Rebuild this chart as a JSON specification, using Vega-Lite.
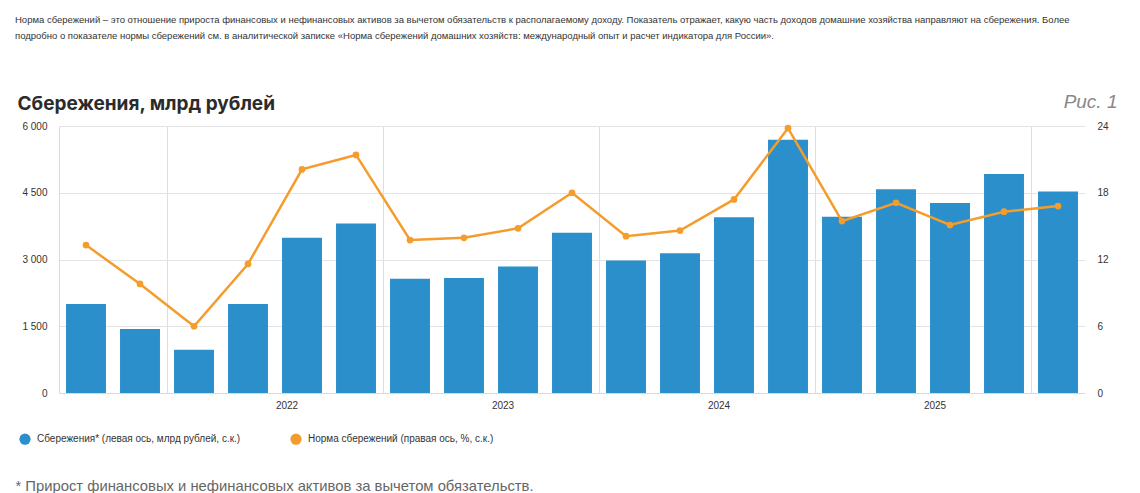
{
  "$schema": "https://vega.github.io/schema/vega-lite/v6.json",
  "width": 1026,
  "height": 267,
  "autosize": {"type": "none"},
  "padding": {"left": 59, "top": 126, "right": 55, "bottom": 100},
  "background": "white",
  "title": {
    "text": [
      "Норма сбережений – это отношение прироста финансовых и нефинансовых активов за вычетом обязательств к располагаемому доходу. Показатель отражает, какую часть доходов домашние хозяйства направляют на сбережения. Более",
      "подробно о показателе нормы сбережений см. в аналитической записке «Норма сбережений домашних хозяйств: международный опыт и расчет индикатора для России»."
    ],
    "anchor": "start",
    "frame": "bounds",
    "font": "Liberation Sans",
    "fontSize": 9.5,
    "fontWeight": "normal",
    "lineHeight": 16,
    "color": "#333333",
    "offset": 52
  },
  "config": {
    "view": {"stroke": null},
    "font": "Liberation Sans",
    "axis": {
      "labelFont": "Liberation Sans",
      "labelFontSize": 10,
      "labelColor": "#333333",
      "gridColor": "#e3e3e3",
      "domainColor": "#d9d9d9",
      "ticks": false
    }
  },
  "data": {
    "values": [
      {"period": "2021Q3", "savings": 2000, "rate": 13.3},
      {"period": "2021Q4", "savings": 1440, "rate": 9.8},
      {"period": "2022Q1", "savings": 970, "rate": 6.0},
      {"period": "2022Q2", "savings": 2000, "rate": 11.6},
      {"period": "2022Q3", "savings": 3490, "rate": 20.1},
      {"period": "2022Q4", "savings": 3810, "rate": 21.4},
      {"period": "2023Q1", "savings": 2570, "rate": 13.75},
      {"period": "2023Q2", "savings": 2585, "rate": 13.95},
      {"period": "2023Q3", "savings": 2840, "rate": 14.8},
      {"period": "2023Q4", "savings": 3600, "rate": 18.0},
      {"period": "2024Q1", "savings": 2980, "rate": 14.1},
      {"period": "2024Q2", "savings": 3140, "rate": 14.6},
      {"period": "2024Q3", "savings": 3950, "rate": 17.4},
      {"period": "2024Q4", "savings": 5690, "rate": 23.8},
      {"period": "2025Q1", "savings": 3960, "rate": 15.45},
      {"period": "2025Q2", "savings": 4580, "rate": 17.1},
      {"period": "2025Q3", "savings": 4270, "rate": 15.1},
      {"period": "2025Q4", "savings": 4920, "rate": 16.3},
      {"period": "2026Q1", "savings": 4530, "rate": 16.8}
    ]
  },
  "encoding": {
    "x": {
      "field": "period",
      "type": "ordinal",
      "sort": null,
      "scale": {"paddingInner": 0, "paddingOuter": 0},
      "axis": {
        "values": ["2022Q1", "2023Q1", "2024Q1", "2025Q1", "2026Q1"],
        "bandPosition": 0,
        "grid": true,
        "gridColor": "#dddddd",
        "labelAngle": 0,
        "labelOffset": 93,
        "labelPadding": 7,
        "labelExpr": "datum.value == '2026Q1' ? '' : slice(datum.value, 0, 4)",
        "title": "* Прирост финансовых и нефинансовых активов за вычетом обязательств.",
        "titleFont": "Liberation Sans",
        "titleFontSize": 14.8,
        "titleFontWeight": "normal",
        "titleColor": "#666666",
        "titleAlign": "left",
        "titleBaseline": "alphabetic",
        "titleX": -44,
        "titleY": 97
      }
    }
  },
  "layer": [
    {
      "mark": {"type": "bar", "width": {"band": 0.74}},
      "encoding": {
        "y": {
          "field": "savings",
          "type": "quantitative",
          "scale": {"domain": [0, 6000]},
          "axis": {
            "values": [0, 1500, 3000, 4500, 6000],
            "labelPadding": 12,
            "labelExpr": "replace(format(datum.value, ','), ',', ' ')",
            "domain": true,
            "title": "Сбережения, млрд рублей",
            "titleFont": "Inter",
            "titleFontSize": 19,
            "titleFontWeight": "bold",
            "titleColor": "#2b2b2b",
            "titleAngle": 0,
            "titleAlign": "left",
            "titleBaseline": "alphabetic",
            "titleX": -42,
            "titleY": -17
          }
        },
        "color": {
          "datum": "Сбережения* (левая ось, млрд рублей, с.к.)",
          "type": "nominal",
          "scale": {
            "domain": ["Сбережения* (левая ось, млрд рублей, с.к.)", "Норма сбережений (правая ось, %, с.к.)"],
            "range": ["#2a8fca", "#f49d2c"]
          },
          "legend": {
            "orient": "none",
            "legendX": -40,
            "legendY": 307,
            "direction": "horizontal",
            "title": null,
            "symbolType": "circle",
            "symbolSize": 125,
            "symbolStrokeWidth": 0,
            "labelFont": "Liberation Sans",
            "labelFontSize": 10,
            "labelColor": "#333333",
            "labelOffset": 6,
            "labelLimit": 0,
            "columnPadding": 49
          }
        }
      }
    },
    {
      "mark": {"type": "line", "strokeWidth": 2.5, "point": {"filled": true, "size": 45}},
      "encoding": {
        "y": {
          "field": "rate",
          "type": "quantitative",
          "scale": {"domain": [0, 24]},
          "axis": {
            "orient": "right",
            "values": [0, 6, 12, 18, 24],
            "grid": false,
            "domain": false,
            "labelPadding": 12,
            "title": "Рис. 1",
            "titleFont": "Liberation Sans",
            "titleFontSize": 19,
            "titleFontWeight": "normal",
            "titleFontStyle": "italic",
            "titleColor": "#888888",
            "titleAngle": 0,
            "titleAlign": "right",
            "titleBaseline": "alphabetic",
            "titleX": 32,
            "titleY": -19
          }
        },
        "color": {"datum": "Норма сбережений (правая ось, %, с.к.)", "type": "nominal"}
      }
    }
  ],
  "resolve": {"scale": {"y": "independent"}}
}
